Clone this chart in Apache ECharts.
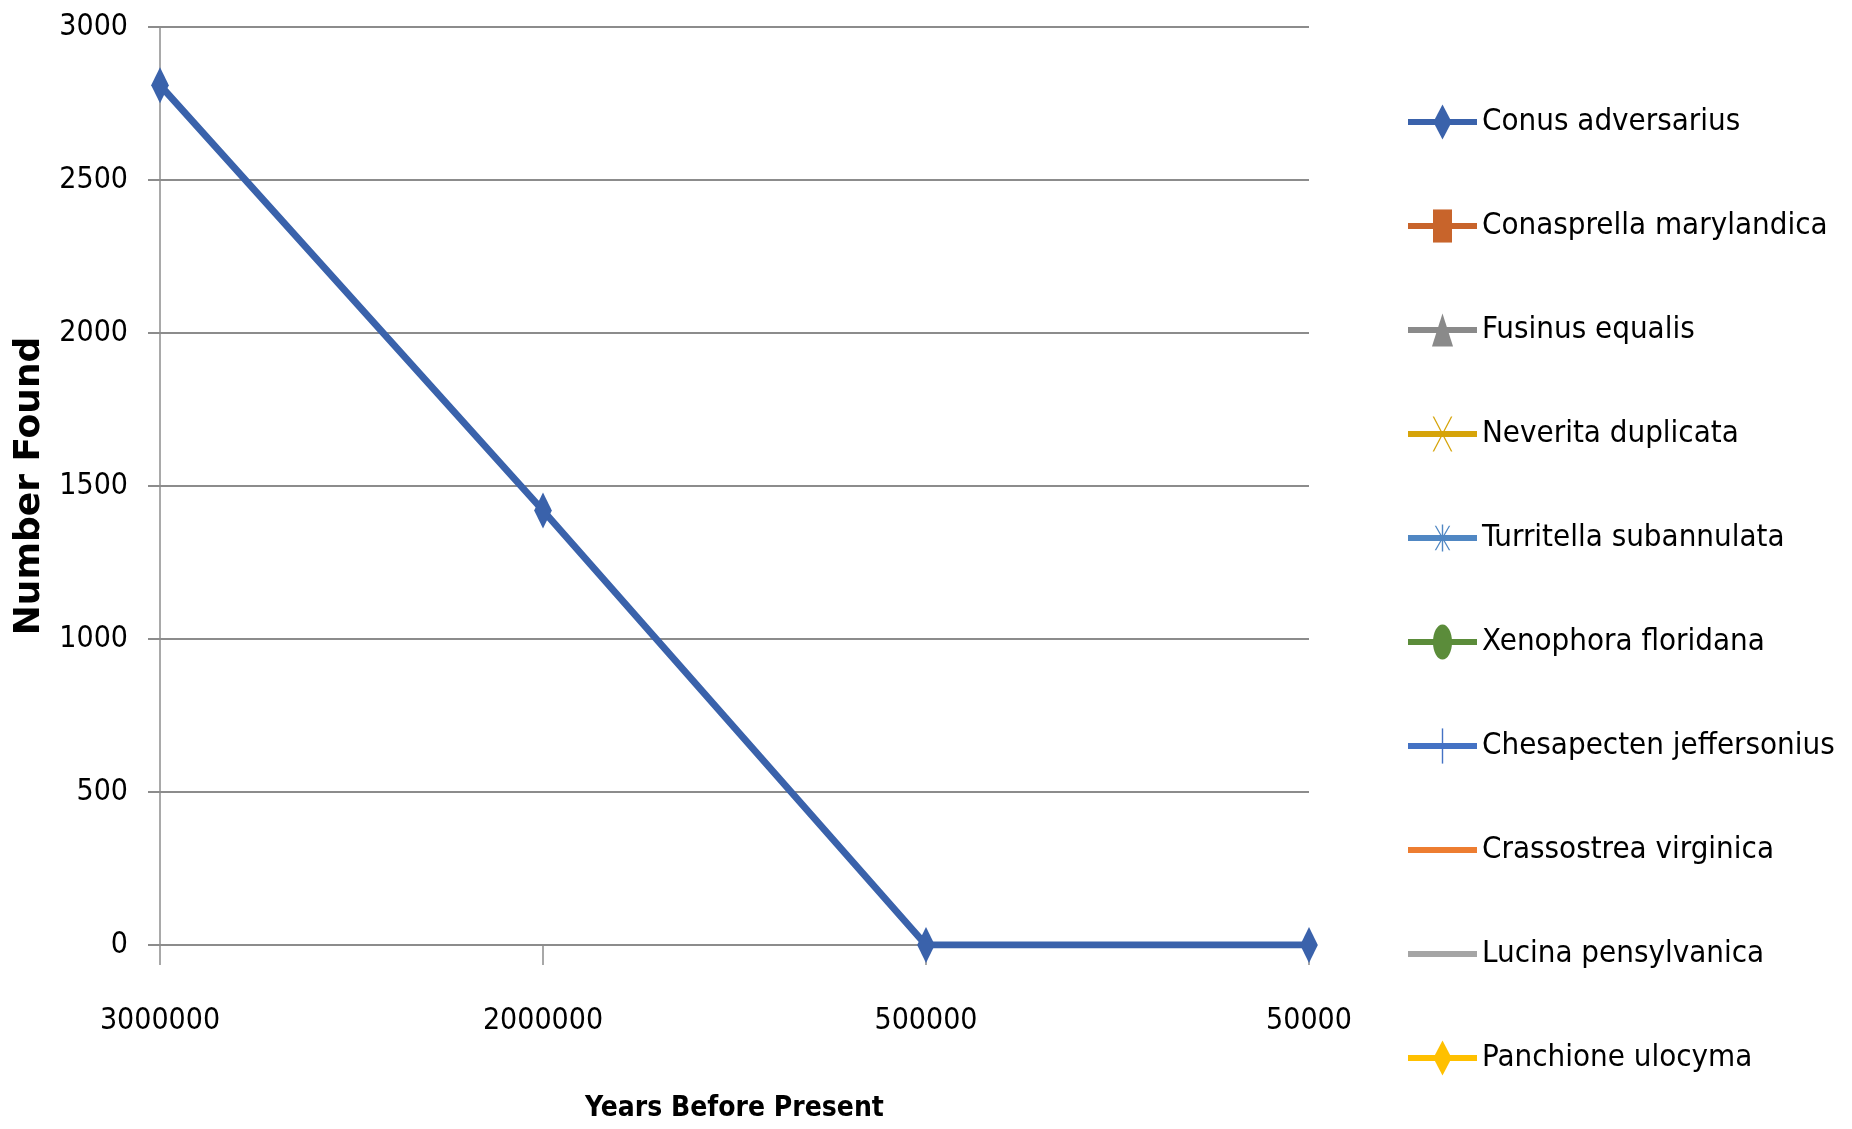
<!DOCTYPE html>
<html>
<head>
<meta charset="utf-8">
<script src="https://cdn.jsdelivr.net/npm/echarts@6/dist/echarts.min.js"></script>
<style>
html,body{margin:0;padding:0;background:#fff;}
#chart{width:1852px;height:1129px;}
</style>
</head>
<body>
<div id="chart"></div>
<script>
// ---- data ----
const years = ["3000000", "2000000", "500000", "50000"];
const seriesNames = [
  "Conus adversarius", "Conasprella marylandica", "Fusinus equalis",
  "Neverita duplicata", "Turritella subannulata", "Xenophora floridana",
  "Chesapecten jeffersonius", "Crassostrea virginica", "Lucina pensylvanica",
  "Panchione ulocyma"
];
const conusAdversarius = [2810, 1420, 0, 0];
const conaspellaMarylandica = [null, null, null, null];
const fusinusEqualis = [null, null, null, null];
const neveritaDuplicata = [null, null, null, null];
const turritellaSubannulata = [null, null, null, null];
const xenophoraFloridana = [null, null, null, null];
const chesapectenJeffersonius = [null, null, null, null];
const crassostreaVirginica = [null, null, null, null];
const lucinaPensylvanica = [null, null, null, null];
const panchioneUlocyma = [null, null, null, null];
const yTicks = { min: 0, max: 3000, interval: 500 };

const seriesValues = [conusAdversarius, conaspellaMarylandica, fusinusEqualis,
  neveritaDuplicata, turritellaSubannulata, xenophoraFloridana,
  chesapectenJeffersonius, crassostreaVirginica, lucinaPensylvanica, panchioneUlocyma];

// ---- styles ----
const colors = ['#3A62AB', '#C8642B', '#8A8A8A', '#D6A40A', '#5087C3',
  '#5B8C3A', '#4472C4', '#ED7D31', '#A5A5A5', '#FFC000'];
const BB = 'M0,0M100,100';
const symbols = [
  'path://' + BB + 'M50,0L76,50L50,100L24,50Z',
  'path://' + BB + 'M23,3H77V97H23Z',
  'path://' + BB + 'M50,3L80,97H20Z',
  'path://' + BB + 'M22,0L26,0L78,100L74,100Z M74,0L78,0L26,100L22,100Z',
  'path://' + BB + 'M48,12H52V88H48Z M28,15L32,15L72,85L68,85Z M68,15L72,15L32,85L28,85Z',
  'path://' + BB + 'M23,50A27,50 0 1 1 77,50A27,50 0 1 1 23,50Z',
  'path://' + BB + 'M48,0H52V100H48Z',
  'none',
  'none',
  'path://' + BB + 'M50,0L76,50L50,100L24,50Z'
];
const FONT = '"Liberation Sans Narrow", "DejaVu Sans Condensed", sans-serif';
const gridColor = '#8C8C8C';

const chart = echarts.init(document.getElementById('chart'), null, { renderer: 'canvas' });

const series = seriesNames.map((name, i) => ({
  name: name,
  type: 'line',
  data: seriesValues[i],
  symbol: symbols[i],
  symbolSize: [34, 36],
  showAllSymbol: true,
  connectNulls: false,
  lineStyle: { color: colors[i], width: 7 },
  itemStyle: { color: colors[i] },
  emphasis: { disabled: true },
  z: 10 - i
}));

const legendData = seriesNames.map((name, i) =>
  symbols[i] === 'none' ? { name: name, itemStyle: { opacity: 0 } } : { name: name });

chart.setOption({
  animation: false,
  backgroundColor: '#ffffff',
  grid: { left: 160, right: 543, top: 27, bottom: 184, containLabel: false, outerBoundsMode: 'none' },
  legend: {
    orient: 'vertical',
    left: 1400,
    top: 95,
    itemWidth: 69,
    itemHeight: 44,
    itemGap: 60,
    data: legendData,
    lineStyle: { width: 6 },
    textStyle: { fontFamily: FONT, fontSize: 31, color: '#000', lineHeight: 44 },
    selectedMode: false
  },
  xAxis: {
    type: 'category',
    data: years,
    boundaryGap: false,
    name: 'Years Before Present',
    nameLocation: 'middle',
    nameGap: 150,
    nameTextStyle: { fontFamily: FONT, fontSize: 28, fontWeight: 'bold', color: '#000' },
    axisLine: { show: true, lineStyle: { color: gridColor, width: 2 } },
    axisTick: { show: true, length: 20, alignWithLabel: true, lineStyle: { color: gridColor, width: 1.5 } },
    axisLabel: { fontFamily: FONT, fontSize: 30, color: '#000', margin: 61 },
    splitLine: { show: false }
  },
  yAxis: {
    type: 'value',
    min: yTicks.min,
    max: yTicks.max,
    interval: yTicks.interval,
    name: 'Number Found',
    nameLocation: 'middle',
    nameGap: 112,
    nameTextStyle: { fontFamily: '"DejaVu Sans", sans-serif', fontSize: 36, fontWeight: 'bold', color: '#000' },
    axisLine: { show: true, lineStyle: { color: gridColor, width: 1.5 } },
    axisTick: { show: true, length: 12, lineStyle: { color: gridColor, width: 2 } },
    axisLabel: { fontFamily: FONT, fontSize: 30, color: '#000', margin: 32, formatter: v => String(v) },
    splitLine: { show: true, lineStyle: { color: gridColor, width: 2 } }
  },
  series: series
});
</script>
</body>
</html>
